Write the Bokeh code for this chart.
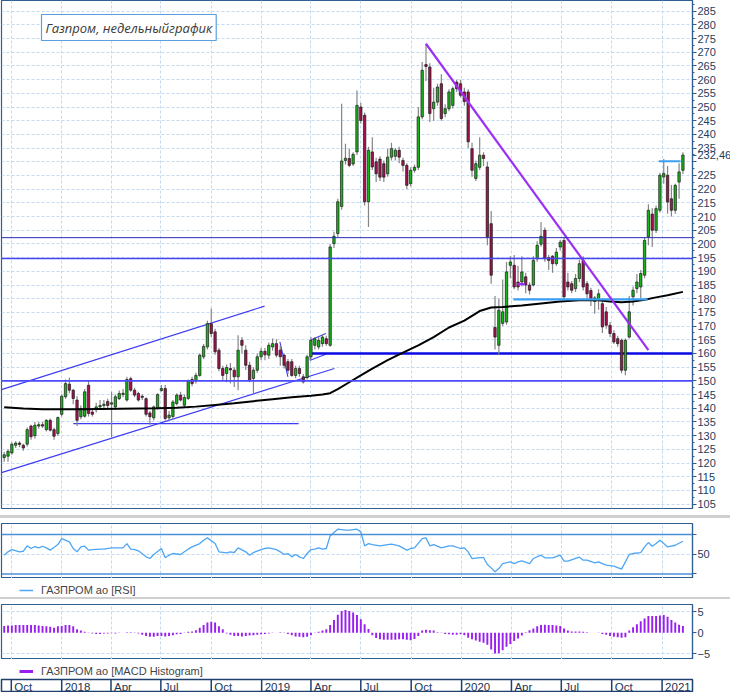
import numpy as np
import pandas as pd
from bokeh.plotting import figure
from bokeh.models import (ColumnDataSource, Range1d, FixedTicker, Label, Legend,
                          LegendItem, Span, Spacer)
from bokeh.layouts import column
from bokeh.embed import file_html
from bokeh.resources import INLINE
from bokeh.core.properties import value

# ---------------- data ----------------
START = "2017-09-18"          # week of first candle (weekly bars)

opens = [122.0,122.5,123.7,126.5,127.3,126.5,126.9,133.5,130.0,133.5,
         134.0,132.2,135.6,132.2,130.8,137.8,144.2,148.8,146.6,143.0,
         136.9,137.1,148.4,138.6,139.5,140.5,141.0,142.5,141.5,140.5,
         143.5,145.0,143.0,150.8,146.6,145.4,144.4,143.5,138.3,136.5,
         140.0,146.5,147.2,136.5,137.0,141.7,144.8,141.1,143.6,150.5,
         150.0,152.0,158.8,162.4,170.9,167.9,161.2,154.5,152.7,154.5,
         153.9,151.5,164.8,161.2,155.7,150.9,153.9,158.8,160.8,159.4,
         162.4,163.6,161.2,159.4,157.0,157.0,152.0,154.5,151.5,151.2,
         158.8,163.0,162.4,163.6,165.4,163.0,200.1,203.8,213.7,230.5,
         231.2,229.2,233.6,250.0,247.0,215.4,233.6,230.0,231.0,229.3,
         225.6,231.7,232.0,234.2,230.5,228.7,222.0,226.9,228.0,246.4,
         265.5,264.6,249.4,251.8,258.5,247.6,249.4,250.6,259.1,258.5,
         255.5,255.5,234.8,223.9,228.0,232.4,228.1,207.4,169.5,163.0,
         171.0,171.5,192.2,192.2,186.1,186.1,188.0,185.0,185.0,194.6,
         199.9,205.0,195.0,195.5,192.8,198.9,201.3,186.1,185.5,183.7,
         187.4,194.0,185.5,183.0,179.0,179.4,178.2,175.2,170.3,167.3,
         165.4,164.8,153.9,166.0,180.7,183.7,184.3,188.6,202.6,210.9,
         205.0,212.3,224.5,225.1,216.5,212.3,222.6,226.9]
highs = [124.0,125.0,127.5,128.0,128.0,127.0,133.0,134.0,135.0,135.0,
         135.0,136.0,136.3,133.0,137.0,145.0,150.5,151.2,147.0,144.5,
         141.0,147.0,150.0,140.0,142.0,143.0,143.0,143.5,146.0,145.0,
         146.5,147.0,151.5,151.5,147.5,146.0,145.0,144.0,139.0,141.0,
         145.5,148.5,148.5,139.0,143.0,145.5,146.0,145.0,150.5,151.5,
         153.0,160.0,163.5,172.0,176.4,169.0,162.0,155.5,156.0,156.5,
         155.0,166.7,166.0,163.0,157.0,155.0,160.0,162.0,162.0,164.0,
         165.5,165.2,163.0,160.0,158.0,158.0,155.5,155.5,152.5,159.5,
         166.0,166.0,166.0,167.0,166.5,200.0,204.5,216.5,251.2,236.6,
         234.8,233.5,256.0,251.5,248.0,235.5,239.0,231.5,232.0,230.5,
         234.8,237.0,235.0,235.5,231.5,229.5,228.0,229.0,250.0,266.4,
         273.1,266.0,257.0,258.5,262.0,251.0,256.5,257.5,260.0,260.0,
         257.0,256.5,237.0,230.5,239.0,233.5,230.0,212.0,181.0,180.0,
         187.0,193.4,195.5,196.0,192.0,195.5,189.5,186.0,195.5,201.0,
         208.0,206.0,196.0,196.0,198.5,201.5,202.5,189.5,186.5,189.0,
         194.2,195.5,186.5,184.0,181.0,183.5,180.0,177.0,171.5,168.5,
         166.5,165.5,165.5,181.0,184.5,189.0,190.5,202.5,214.5,213.0,
         214.0,226.0,231.0,228.5,221.5,222.0,229.5,233.5]
lows = [120.5,120.5,123.0,125.5,125.8,124.5,126.0,128.5,129.0,132.5,
        132.8,131.5,131.5,128.5,130.0,137.0,143.5,145.5,141.5,133.5,
        136.0,136.5,137.0,137.0,138.5,139.5,139.5,139.5,129.5,139.5,
        143.0,144.0,142.5,146.0,144.0,142.5,143.0,137.0,134.0,135.5,
        139.5,146.0,135.5,135.5,136.0,141.0,142.5,140.5,143.0,148.0,
        149.0,151.5,158.0,161.5,166.0,159.5,153.5,150.0,149.5,149.0,
        147.8,146.6,160.0,154.0,149.5,145.4,153.0,157.5,157.5,158.0,
        161.0,158.5,155.5,154.5,152.5,151.5,151.0,151.5,149.0,150.5,
        157.5,161.5,161.5,162.5,162.8,162.5,198.5,202.5,212.5,229.0,
        228.0,228.5,232.5,244.0,214.0,206.2,227.0,222.6,223.0,222.6,
        224.5,230.5,230.5,229.5,226.5,220.0,221.0,226.0,227.0,245.5,
        259.5,244.5,245.0,250.5,245.0,246.3,248.5,249.5,255.5,253.5,
        250.5,235.0,224.5,223.0,227.0,228.5,199.5,185.5,161.5,159.7,
        170.0,170.5,187.5,183.5,183.0,184.5,182.0,181.5,184.5,193.5,
        199.0,193.5,190.5,189.5,192.0,197.5,179.5,183.0,182.0,182.5,
        186.0,183.0,180.0,177.3,174.5,176.0,167.5,169.0,166.0,163.5,
        162.5,152.8,152.1,165.5,177.5,182.0,180.0,187.5,199.5,198.9,
        204.0,211.5,222.0,211.0,210.0,211.0,216.5,225.5]
closes = [123.0,124.3,126.9,127.3,126.8,125.5,132.2,129.6,133.8,134.0,
          133.5,135.6,132.0,129.8,136.6,144.4,149.0,146.6,143.6,135.6,
          139.9,146.0,138.1,137.8,140.5,141.0,141.5,141.0,142.0,144.2,
          145.4,145.5,150.5,146.6,144.8,143.0,144.0,137.8,136.9,140.5,
          145.0,147.2,136.3,137.5,142.3,144.8,143.0,143.9,150.0,149.0,
          152.0,159.4,162.6,170.9,167.3,160.6,154.5,152.0,154.9,154.0,
          151.5,161.2,163.0,155.7,150.2,153.9,158.8,160.8,159.5,163.0,
          163.6,159.4,158.8,155.7,153.9,152.0,154.5,152.7,149.6,158.8,
          164.8,165.4,164.8,166.0,163.6,198.9,202.8,215.4,230.3,231.3,
          228.7,232.7,250.6,245.1,215.4,234.2,228.1,225.6,224.4,224.4,
          231.7,234.8,234.2,231.7,228.7,221.4,226.9,228.0,246.4,263.4,
          264.8,247.6,251.8,257.3,245.8,249.4,255.5,256.7,256.7,254.3,
          252.0,237.3,226.9,229.3,232.4,231.2,202.6,188.6,166.0,175.8,
          175.2,189.8,193.4,184.3,184.3,189.8,185.0,183.1,194.0,199.5,
          202.8,194.6,194.0,192.8,197.0,200.6,180.7,184.3,183.1,187.4,
          192.8,184.3,181.8,179.4,180.3,181.8,169.7,170.3,167.3,164.2,
          163.6,153.9,164.8,175.2,183.1,186.1,189.2,201.3,212.3,205.0,
          212.9,225.1,225.7,215.3,212.3,221.4,226.3,232.46]

# moving average (black line), read at selected weeks
ma_week = [0,5,10,15,20,25,30,35,40,45,50,55,60,65,70,75,80,83,85,87,90,93,96,100,
           104,108,112,116,120,124,127,130,135,140,145,150,155,158,161,164,167,170,173,177]
ma_val = [140.4,139.9,139.6,139.6,139.6,139.7,139.8,139.9,140.0,140.2,140.6,141.2,141.8,
          142.6,143.3,144.0,144.6,145.0,145.5,147.0,149.5,152.0,154.5,157.6,160.3,163.0,
          166.0,169.5,172.0,175.5,176.8,177.0,177.5,178.3,179.0,179.4,179.4,179.0,178.7,
          179.0,179.6,180.5,181.3,182.5]

# RSI panel
rsi_week = [0,1,2,4,5,6,7,8,9,10,11,12,14,15,17,18,19,20,21,22,23,25,26,28,30,31,32,33,
            34,35,37,38,39,41,42,43,44,46,47,48,49,51,52,53,55,56,58,59,60,61,63,64,65,
            67,68,69,71,72,73,74,75,76,77,78,79,80,81,82,83,84,85,86,87,89,90,92,93,94,
            95,96,98,100,101,103,105,106,107,109,110,111,112,114,116,117,119,120,121,122,
            124,125,126,127,128,129,130,132,133,134,135,137,138,140,141,143,145,146,147,
            150,151,152,154,155,156,157,159,161,162,163,164,166,167,168,169,170,171,172,
            173,175,177]
rsi_val = [49.0,52.4,54.7,52.4,53.0,58.5,55.8,57.8,56.4,58.1,56.4,54.1,59.8,65.9,62.5,
           55.8,52.4,57.4,58.1,54.1,54.7,55.1,55.1,56.4,56.4,56.4,60.8,55.1,54.7,53.4,
           47.3,45.6,49.7,55.8,46.3,49.0,50.7,49.7,52.4,55.1,57.4,60.8,64.2,66.6,60.8,
           52.4,51.4,52.4,51.7,56.4,52.4,49.0,51.7,54.7,55.8,56.4,54.7,52.4,49.7,50.7,
           47.3,49.7,47.3,45.6,50.7,54.7,55.1,56.4,55.1,55.8,68.6,72.0,75.4,74.4,74.4,
           75.4,72.7,58.5,60.8,59.8,58.5,59.8,60.2,58.5,54.1,55.8,56.4,65.9,66.6,58.5,
           59.8,56.4,58.5,58.5,55.8,56.4,52.4,45.6,46.6,46.6,39.5,36.1,32.1,35.4,40.5,
           42.2,40.5,42.2,43.2,40.5,45.6,49.0,46.3,46.3,49.0,42.9,42.9,47.0,43.9,43.9,
           41.2,42.2,40.5,38.8,37.8,34.8,42.2,49.7,50.7,51.7,57.4,61.8,58.1,60.8,64.2,
           60.8,57.4,59.1,63.2]
rsi_levels = [30, 70]

# MACD histogram, one bar per week
macd_hist = [1.6,1.7,1.7,1.8,1.8,1.8,1.8,1.8,1.8,1.7,1.6,1.5,1.4,1.2,1.5,
             1.6,1.8,1.8,1.5,0.8,0.5,0.2,
             -0.1,-0.2,-0.3,-0.3,-0.2,-0.2,-0.1,-0.2,-0.1,0.0,0.1,0.1,-0.1,-0.2,
             -0.5,-0.8,-1.0,-1.0,-0.8,-0.8,-0.9,-0.8,-0.6,-0.4,-0.3,
             -0.1,0.2,0.3,0.6,1.2,1.8,2.4,2.6,2.4,1.5,0.8,
             -0.2,-0.5,-0.8,-0.8,-0.9,-0.8,-0.7,-0.6,-0.5,-0.4,-0.3,
             -0.2,-0.1,0.0,0.1,-0.1,-0.3,-0.6,-0.9,-1.0,-1.1,-1.0,-0.6,-0.1,
             0.2,0.5,0.8,1.8,3.0,4.3,5.2,5.4,5.2,4.8,4.2,3.2,2.0,0.9,
             -0.6,-1.3,-1.6,-1.7,-1.7,-1.7,-1.7,-1.6,-1.6,-1.7,-1.8,-1.5,-0.8,
             0.5,0.7,0.6,0.5,0.1,-0.1,-0.3,-0.4,-0.5,-0.5,-0.4,-0.6,
             -1.2,-1.6,-1.9,-2.2,-2.4,-2.9,-4.0,-5.0,-4.9,-4.2,-3.4,-2.7,-2.0,-1.4,-0.7,
             0.1,0.6,1.0,1.5,1.8,1.9,1.8,1.8,1.7,1.6,
             1.0,0.5,0.3,0.3,0.3,0.2,0.1,0.0,0.0,
             -0.1,-0.3,-0.5,-0.8,-1.0,-1.1,-1.2,-1.1,
             0.5,1.3,2.0,2.7,3.4,4.0,4.0,4.0,4.1,4.2,3.8,3.0,2.4,1.9,1.6]

# drawn analysis lines (week index, price)
thin_w0 = [-0.7, -0.7, 18.0, 71.9, 79.8, 79.8, 79.8]
thin_p0 = [146.8, 116.5, 134.4, 164.2, 157.5, 164.8, 157.5]
thin_w1 = [67.9, 86.1, 76.8, 74.0, 79.8, 83.9, 83.9]
thin_p1 = [177.3, 154.5, 134.4, 151.5, 164.8, 167.3, 159.7]
support_w = [80.0, 179.5]
support_p = [160.0, 160.0]
lb_w0 = [132.8, 170.7]
lb_w1 = [167.8, 176.4]
lb_p = [179.8, 230.2]
pur_w0 = [110.0, 133.8]
pur_p0 = [273.1, 185.3]
pur_w1 = [168.0, 135.8]
pur_p1 = [161.2, 185.3]
levels = [150.0, 194.7, 202.3]

price_ticks = list(range(105, 290, 5))
q_dates = ["2017-10-01", "2018-01-01", "2018-04-01", "2018-07-01", "2018-10-01",
           "2019-01-01", "2019-04-01", "2019-07-01", "2019-10-01", "2020-01-01",
           "2020-04-01", "2020-07-01", "2020-10-01", "2021-01-01"]
q_labels = ["Oct", "2018", "Apr", "Jul", "Oct", "2019", "Apr", "Jul", "Oct",
            "2020", "Apr", "Jul", "Oct", "2021"]
TITLE = "Газпром, недельныйграфик"
RSI_LABEL = "ГАЗПРОМ ao [RSI]"
MACD_LABEL = "ГАЗПРОМ ao [MACD Histogram]"

# ---------------- helpers ----------------
DAY = 86400000.0
D0 = pd.Timestamp(START).value / 1e6


def wk(i):
    arr = np.atleast_1d(np.asarray(i, dtype=float))
    return [float(D0 + v * 7 * DAY) for v in arr]


q_ms = [pd.Timestamp(d).value / 1e6 for d in q_dates]
X0, X1 = wk(-0.7)[0], wk(179.5)[0]
FW = 691
FH = 508
TOTAL_W = 730
GRID = "#c4daf0"
AX = "#2f5f92"
LBL = "#24405f"
FONT = "Liberation Sans"
RSI_COLOR = "#4da6f5"
MACD_COLOR = "#9a1ef0"


def style_panel(f):
    f.xaxis.visible = False
    f.xgrid.ticker = FixedTicker(ticks=q_ms)
    for g in (f.xgrid, f.ygrid):
        g.grid_line_color = GRID
        g.grid_line_dash = "3 2"
        g.grid_line_width = 1
    f.outline_line_color = AX
    f.outline_line_width = 1.2
    ax = f.yaxis[0]
    ax.axis_line_color = AX
    ax.axis_line_width = 1.2
    ax.major_tick_line_color = AX
    ax.minor_tick_line_color = AX
    ax.major_tick_in = 0
    ax.major_tick_out = 4
    ax.minor_tick_in = 0
    ax.minor_tick_out = 2
    ax.major_label_standoff = 1
    ax.major_label_text_font = FONT
    ax.major_label_text_font_size = "11px"
    ax.major_label_text_color = LBL
    f.background_fill_color = "white"
    f.border_fill_color = "white"


main_x = Range1d(X0, X1)


def make_fig(yr, fh, top, bottom):
    return figure(x_range=main_x, y_range=Range1d(*yr), frame_width=FW, frame_height=fh,
                  min_border_left=1, min_border_right=38, min_border_top=top,
                  min_border_bottom=bottom, y_axis_location="right",
                  output_backend="svg", toolbar_location=None)


# ---------------- main price panel ----------------
p = make_fig((103.4, 288.9), FH, 0, 7)
style_panel(p)

# last-price marker shown on the price axis
price_label = f"{closes[-1]:.2f}".replace(".", ",")
p.yaxis.ticker = FixedTicker(ticks=price_ticks + [closes[-1]],
                             minor_ticks=[t + 2.5 for t in price_ticks])
p.yaxis.major_label_overrides = {closes[-1]: price_label, 230: ""}
p.ygrid.ticker = FixedTicker(ticks=price_ticks)

dates = wk(range(len(closes)))
src = ColumnDataSource(dict(
    x=dates, o=opens, h=highs, l=lows, c=closes,
    top=[max(a, b) for a, b in zip(opens, closes)],
    bot=[min(a, b) for a, b in zip(opens, closes)],
    col=["#17b517" if c >= o else "#a3124f" for o, c in zip(opens, closes)],
))

for lv, lc, lw in zip(levels, ["#4b4bff", "#4646f0", "#2a2ab8"], [1.6, 1.6, 1.0]):
    p.add_layout(Span(location=lv, dimension="width", line_color=lc, line_width=lw))

p.segment(x0=wk(thin_w0), y0=thin_p0, x1=wk(thin_w1), y1=thin_p1,
          line_color="#3c3cf5", line_width=1.1)
p.line(x=wk(support_w), y=support_p, line_color="#0a0ae6", line_width=2.4)

p.segment(x0="x", y0="h", x1="x", y1="l", source=src, line_color="#858585", line_width=1.2)
p.vbar(x="x", top="top", bottom="bot", width=7 * DAY * 0.62, source=src,
       fill_color="col", line_color="#1a1a1a", line_width=0.7)

p.line(x=wk(ma_week), y=ma_val, line_color="black", line_width=2)
p.segment(x0=wk(lb_w0), y0=lb_p, x1=wk(lb_w1), y1=lb_p,
          line_color="#3ba0f2", line_width=2.2)
p.segment(x0=wk(pur_w0), y0=pur_p0, x1=wk(pur_w1), y1=pur_p1,
          line_color="#9b30f5", line_width=2.2)

p.add_layout(Label(x=40, y=FH - 14, x_units="screen", y_units="screen", text=TITLE,
                   text_font="Open Sans", text_font_style="italic", text_font_size="13px",
                   text_color="#3a3a3a", text_baseline="top", text_align="left",
                   padding=4, border_line_color="#5a9fe0", border_line_width=1.2,
                   background_fill_color="white"))


def legend_row(label, color, lw):
    lf = figure(x_range=Range1d(0, 1), y_range=Range1d(0, 1), frame_width=FW,
                frame_height=19, min_border_left=1, min_border_right=38,
                min_border_top=0, min_border_bottom=0,
                output_backend="svg", toolbar_location=None)
    lf.axis.visible = False
    lf.grid.visible = False
    lf.outline_line_color = None
    key = lf.line(x=[-2, -1], y=[-2, -1], line_color=color, line_width=lw)
    lf.add_layout(Legend(items=[LegendItem(label=label, renderers=[key])],
                         location=(18, 0.5), orientation="horizontal", margin=0,
                         padding=2, border_line_color=None, background_fill_alpha=0,
                         glyph_width=14, glyph_height=14, label_height=14,
                         label_standoff=8, label_text_font=FONT,
                         label_text_font_size="11px", label_text_color="#444444"))
    return lf


# ---------------- RSI panel ----------------
r = make_fig((25.3, 81.2), 55, 5, 0)
style_panel(r)
r.yaxis.ticker = FixedTicker(ticks=[30, 50, 70])
r.yaxis.major_label_overrides = {30: "", 70: ""}
r.ygrid.ticker = FixedTicker(ticks=[50])
for lv in rsi_levels:
    r.add_layout(Span(location=lv, dimension="width", line_color="#4a90d8", line_width=1.5))
r.line(x=wk(rsi_week), y=rsi_val, line_color=RSI_COLOR, line_width=1.3)
rleg = legend_row(RSI_LABEL, RSI_COLOR, 1.5)

# ---------------- MACD panel ----------------
m = make_fig((-6.42, 6.73), 55, 5, 0)
style_panel(m)
m.yaxis.ticker = FixedTicker(ticks=[-5, 0, 5])
m.ygrid.ticker = FixedTicker(ticks=[-5, 5])
m.vbar(x=wk(range(len(macd_hist))), top=macd_hist, bottom=0, width=7 * DAY * 0.5,
       fill_color=MACD_COLOR, line_color=None)
mleg = legend_row(MACD_LABEL, MACD_COLOR, 3)

# ---------------- time axis ----------------
t = figure(x_range=main_x, y_range=Range1d(0, 1), frame_width=FW, frame_height=13,
           min_border_left=1, min_border_right=38, min_border_top=1, min_border_bottom=0,
           output_backend="svg", toolbar_location=None)
t.axis.visible = False
t.grid.visible = False
t.outline_line_color = "#1f3f6e"
t.outline_line_width = 1.5
t.segment(x0=q_ms, y0=[0] * len(q_ms), x1=q_ms, y1=[1] * len(q_ms),
          line_color="#1f3f6e", line_width=1.5)
t.text(x=q_ms, y=[0.45] * len(q_ms), text=q_labels, x_offset=3, text_baseline="middle",
       text_align="left", text_font=value(FONT), text_font_size="11.5px",
       text_color="#1c3352")

sep1 = Spacer(width=TOTAL_W, height=3, styles={"background-color": "#cfcfcf"})
sep2 = Spacer(width=TOTAL_W, height=2, styles={"background-color": "#cfcfcf"})

layout = column(p, sep1, r, rleg, sep2, m, mleg, t, spacing=0)
open("out.html", "w").write(file_html(layout, INLINE))
